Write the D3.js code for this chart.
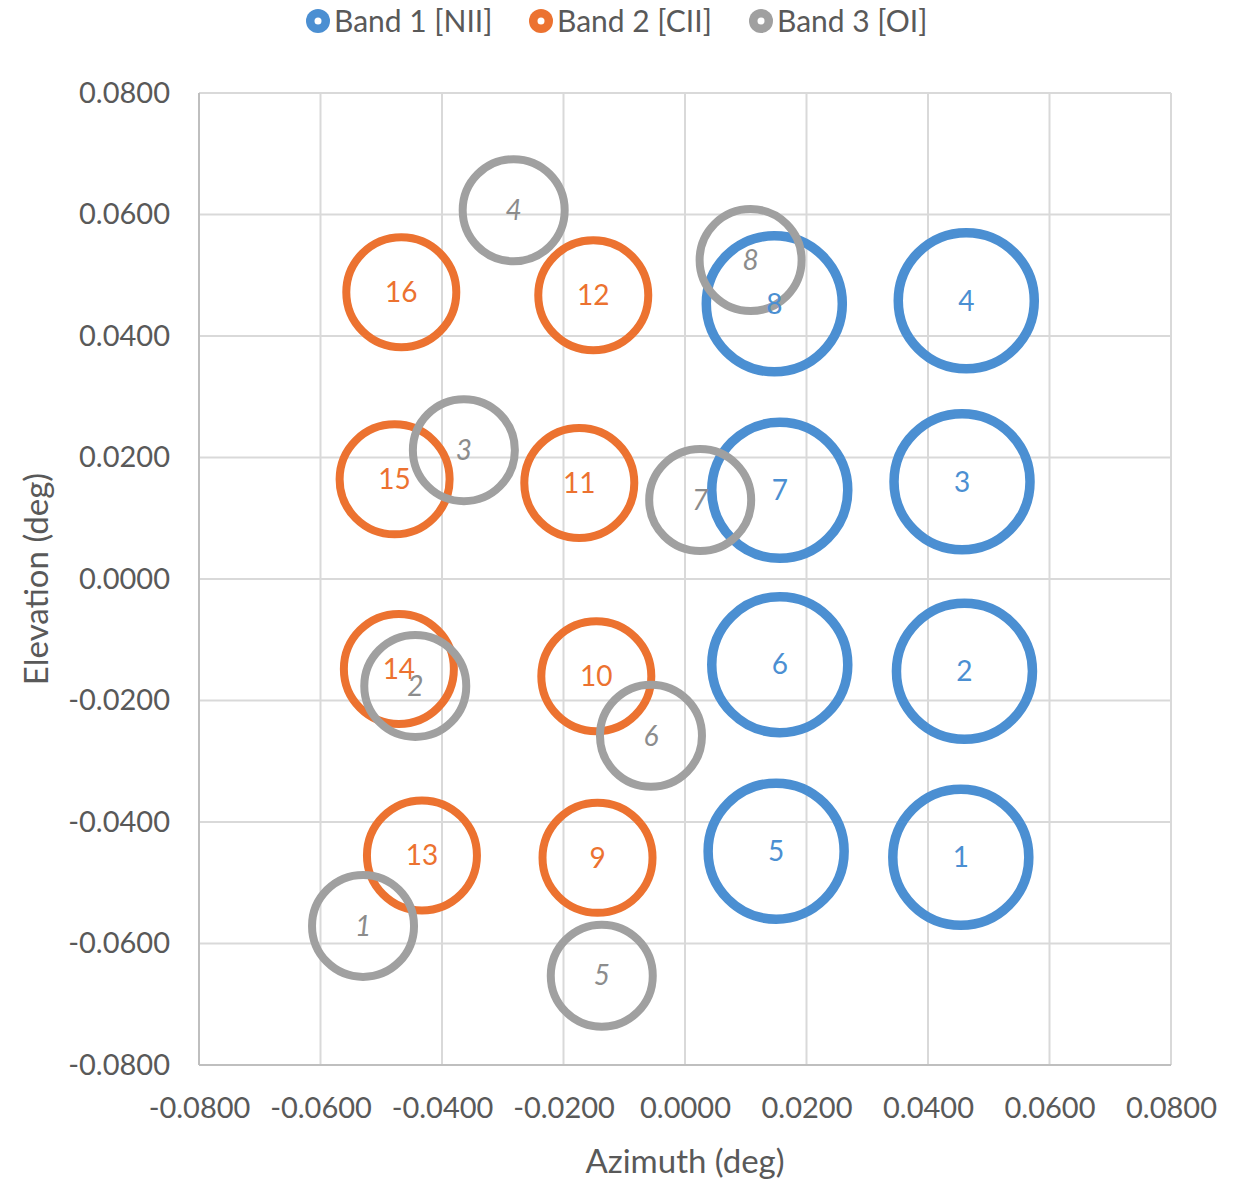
<!DOCTYPE html>
<html>
<head>
<meta charset="utf-8">
<script src="https://cdn.jsdelivr.net/npm/d3@7"></script>
<style>
  html, body { margin: 0; padding: 0; background: #fff; }
  svg { display: block; font-family: Lato, "Open Sans", sans-serif; }
</style>
</head>
<body>
<svg id="chart" width="1250" height="1181"></svg>
<script>
// Beam centres per band (azimuth, elevation in degrees) and their numbers
const band1Az = [0.0454, 0.0460, 0.0456, 0.0463, 0.0150, 0.0156, 0.0156, 0.0147];
const band1El = [-0.0458, -0.0152, 0.0160, 0.0458, -0.0448, -0.0141, 0.0146, 0.0453];
const band1Ids = ["1", "2", "3", "4", "5", "6", "7", "8"];

const band2Az = [-0.0144, -0.0146, -0.0174, -0.0151, -0.0433, -0.0471, -0.0478, -0.0467];
const band2El = [-0.0459, -0.0160, 0.0158, 0.0467, -0.0455, -0.0148, 0.0164, 0.0472];
const band2Ids = ["9", "10", "11", "12", "13", "14", "15", "16"];

const band3Az = [-0.0530, -0.0444, -0.0364, -0.0282, -0.0137, -0.0056, 0.0025, 0.0108];
const band3El = [-0.0571, -0.0176, 0.0212, 0.0607, -0.0653, -0.0258, 0.0130, 0.0525];
const band3Ids = ["1", "2", "3", "4", "5", "6", "7", "8"];

const seriesNames = ["Band 1 [NII]", "Band 2 [CII]", "Band 3 [OI]"];
const tickValues = [-0.08, -0.06, -0.04, -0.02, 0, 0.02, 0.04, 0.06, 0.08];

const series = [
  { name: seriesNames[0], az: band1Az, el: band1El, ids: band1Ids, color: "#4b8fd2", text: "#4b8fd2", r: 68, sw: 9.5, italic: false },
  { name: seriesNames[1], az: band2Az, el: band2El, ids: band2Ids, color: "#ec7230", text: "#ec7230", r: 55, sw: 8, italic: false },
  { name: seriesNames[2], az: band3Az, el: band3El, ids: band3Ids, color: "#a0a0a0", text: "#8c8c8c", r: 51, sw: 8, italic: true }
];

const svg = d3.select("#chart");
const plotL = 199, plotR = 1171, plotT = 93, plotB = 1065;

const x = d3.scaleLinear().domain([-0.08, 0.08]).range([plotL, plotR]);
const y = d3.scaleLinear().domain([-0.08, 0.08]).range([plotB, plotT]);
const fmt = d => d3.format(".4f")(d).replace("\u2212", "-");

// Gridlines
const grid = svg.append("g");
grid.append("g").selectAll("line").data(tickValues).join("line")
  .attr("x1", d => x(d)).attr("x2", d => x(d))
  .attr("y1", plotT).attr("y2", plotB)
  .attr("stroke", "#d9d9d9").attr("stroke-width", 2);
grid.append("g").selectAll("line").data(tickValues).join("line")
  .attr("y1", d => y(d)).attr("y2", d => y(d))
  .attr("x1", plotL).attr("x2", plotR)
  .attr("stroke", "#d9d9d9").attr("stroke-width", 2);

// Axes (labels only; axis lines drawn separately)
const xAxis = svg.append("g").attr("transform", `translate(0,${plotB})`)
  .call(d3.axisBottom(x).tickValues(tickValues).tickFormat(fmt).tickSize(0).tickPadding(32));
const yAxis = svg.append("g").attr("transform", `translate(${plotL},0)`)
  .call(d3.axisLeft(y).tickValues(tickValues).tickFormat(fmt).tickSize(0).tickPadding(29));
[xAxis, yAxis].forEach(a => {
  a.select(".domain").remove();
  a.selectAll("text").attr("fill", "#595959").style("font-size", "29px")
    .style("font-family", "Lato, 'Open Sans', sans-serif");
});

svg.append("line").attr("x1", plotL).attr("x2", plotL).attr("y1", plotT).attr("y2", plotB)
  .attr("stroke", "#bfbfbf").attr("stroke-width", 2);
svg.append("line").attr("x1", plotL).attr("x2", plotR).attr("y1", plotB).attr("y2", plotB)
  .attr("stroke", "#bfbfbf").attr("stroke-width", 2);

// Axis titles
svg.append("text").attr("x", (plotL + plotR) / 2).attr("y", 1173)
  .attr("text-anchor", "middle").attr("fill", "#595959").style("font-size", "33px")
  .text("Azimuth (deg)");
svg.append("text").attr("transform", `translate(48,${(plotT + plotB) / 2}) rotate(-90)`)
  .attr("text-anchor", "middle").attr("fill", "#595959").style("font-size", "33px")
  .text("Elevation (deg)");

// Beam rings
const rings = svg.append("g");
series.forEach(s => {
  rings.append("g").selectAll("circle").data(s.az.map((a, i) => [a, s.el[i]])).join("circle")
    .attr("cx", d => x(d[0])).attr("cy", d => y(d[1])).attr("r", s.r)
    .attr("fill", "none").attr("stroke", s.color).attr("stroke-width", s.sw);
});

// Beam numbers
const labels = svg.append("g");
series.forEach(s => {
  labels.append("g").selectAll("text").data(s.az.map((a, i) => [a, s.el[i], s.ids[i]])).join("text")
    .attr("x", d => x(d[0])).attr("y", d => y(d[1]))
    .attr("text-anchor", "middle").attr("dy", "0.35em")
    .attr("fill", s.text).style("font-size", "28px")
    .style("font-style", s.italic ? "italic" : "normal")
    .text(d => d[2]);
});

// Legend
const legendX = [318, 541, 761];
const legend = svg.append("g");
series.forEach((s, i) => {
  const g = legend.append("g").attr("transform", `translate(${legendX[i]},21)`);
  g.append("circle").attr("r", 12).attr("fill", s.color);
  g.append("circle").attr("r", 3.5).attr("fill", "#fff");
  g.append("text").attr("x", 16).attr("dy", "0.35em").attr("fill", "#595959")
    .style("font-size", "30px").text(s.name);
});
</script>
</body>
</html>
